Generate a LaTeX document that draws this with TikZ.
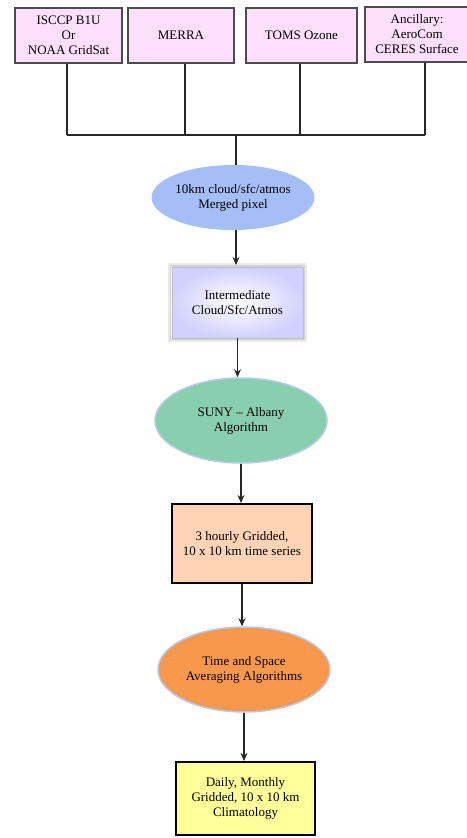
\documentclass[tikz,border=0pt]{standalone}
\usepackage{fontspec}
\setmainfont{Liberation Serif}
\usetikzlibrary{shapes.geometric,arrows.meta}
\definecolor{pinkfill}{RGB}{254,224,252}
\definecolor{blueell}{RGB}{165,190,245}
\definecolor{greenell}{RGB}{136,207,174}
\definecolor{peach}{RGB}{255,212,182}
\definecolor{orangeell}{RGB}{248,152,76}
\definecolor{yellowbox}{RGB}{255,255,153}
\definecolor{rimblue}{RGB}{182,200,236}
\tikzset{
  every node/.style={font=\fontsize{13}{15}\selectfont, align=center, inner sep=0pt},
  srcbox/.style={draw=black!70, line width=1.3pt, fill=pinkfill, rectangle},
  ellnode/.style={ellipse},
  thickbox/.style={draw=black, line width=2pt, rectangle},
  conn/.style={line width=1.2pt, draw=black!85},
  arr/.style={conn, -{Stealth[length=8pt,width=7pt]}}
}
\begin{document}
\begin{tikzpicture}[x=1pt,y=1pt]
\useasboundingbox (0,0) rectangle (466,-838);
% source boxes
\node[srcbox, minimum width=107, minimum height=55] (b1) at (68.5,-35.5) {ISCCP B1U\\Or\\NOAA GridSat};
\node[srcbox, minimum width=106, minimum height=55] (b2) at (181,-35.5) {MERRA};
\node[srcbox, minimum width=111, minimum height=55] (b3) at (301.5,-35.5) {TOMS Ozone};
\node[srcbox, minimum width=104, minimum height=55] (b4) at (417,-34.5) {Ancillary:\\AeroCom\\CERES Surface};
% merged pixel ellipse
\node[ellnode, fill=blueell, minimum width=160, minimum height=65] (e1) at (233,-197.5) {10km cloud/sfc/atmos\\Merged pixel};
% intermediate box with glow
\node[rectangle, minimum width=131, minimum height=71] (ib) at (237.5,-302.5) {};
\draw[black!8, line width=3pt] ([shift={(-2.5,2.5)}]ib.north west) rectangle ([shift={(2.5,-2.5)}]ib.south east);
\draw[black!18, line width=0.5pt] ([shift={(-1.5,1.5)}]ib.north west) rectangle ([shift={(1.5,-1.5)}]ib.south east);
\shade[inner color=white, outer color=blue!18] (ib.north west) rectangle (ib.south east);
\draw[black!25, line width=0.5pt] (ib.north west) rectangle (ib.south east);
\node at (ib.center) {Intermediate\\Cloud/Sfc/Atmos};
% SUNY ellipse
\node[ellnode, fill=greenell, draw=rimblue, line width=1.5pt, minimum width=172, minimum height=85] (e2) at (241,-420.5) {SUNY -- Albany\\Algorithm};
% 3 hourly box
\node[thickbox, fill=peach, minimum width=140, minimum height=79] (b5) at (242,-543.5) {3 hourly Gridded,\\10 x 10 km time series};
% orange ellipse
\node[ellnode, fill=orangeell, draw=rimblue, line width=1.5pt, minimum width=172, minimum height=85] (e3) at (244,-669.5) {Time and Space\\Averaging Algorithms};
% yellow box
\node[thickbox, fill=yellowbox, minimum width=139, minimum height=73] (b6) at (245.5,-798.5) {Daily, Monthly\\Gridded, 10 x 10 km\\Climatology};
% connectors
\coordinate (jl) at (67,-135);
\coordinate (jr) at (425,-135);
\coordinate (jc) at (236,-135);
\draw[conn] (b1.south -| jl) -- (jl);
\draw[conn] (b2.south -| 185,0) -- (185,-135);
\draw[conn] (b3.south -| 300,0) -- (300,-135);
\draw[conn] (b4.south -| jr) -- (jr);
\draw[conn] (jl) -- (jr);
\draw[conn] (jc) -- (jc |- e1.north);
\draw[arr] (236,-230) -- (236,-265);
\draw[arr] (ib.south) -- (ib.south |- e2.north);
\draw[arr] (e2.south) -- (e2.south |- b5.north);
\draw[arr] (b5.south) -- (b5.south |- e3.north);
\draw[arr] (e3.south) -- (e3.south |- b6.north);
\end{tikzpicture}
\end{document}
